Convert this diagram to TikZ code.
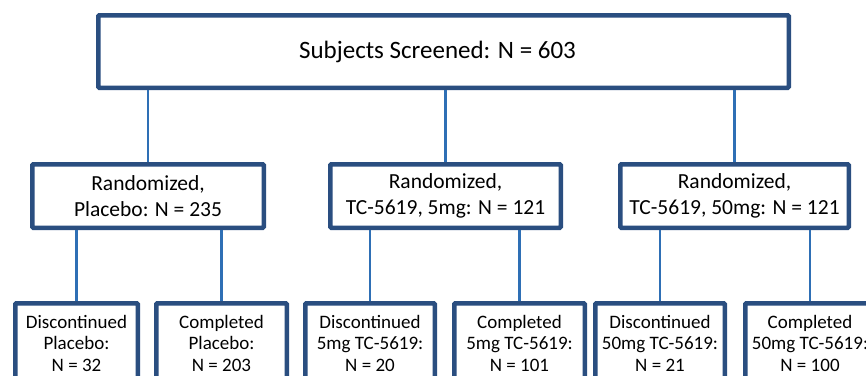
\documentclass[tikz,border=0pt]{standalone}
\usepackage{fontspec}
\setmainfont{Carlito}
\definecolor{boxblue}{HTML}{2A4E80}
\definecolor{lineblue}{HTML}{2E6FB5}
\begin{document}
\begin{tikzpicture}[x=1pt,y=-1pt,
  box/.style={draw=boxblue,line width=4.5pt,fill=white,align=center,inner sep=0pt,rounded corners=1pt},
  topbox/.style={box,font=\fontsize{25}{29}\selectfont},
  midbox/.style={box,minimum height=63.5pt,font=\fontsize{21.5}{26}\selectfont},
  lowbox/.style={box,minimum height=79.5pt,font=\fontsize{19}{21.5}\selectfont},
  conn/.style={draw=lineblue,line width=2.5pt}]
\useasboundingbox (0,0) rectangle (866,375);
\clip (0,0) rectangle (866,375);
\fill[white] (0,0) rectangle (866,375);
\node[topbox, minimum width=690.5pt, minimum height=72.5pt] (top) at (443.5,51.5) {Subjects Screened: N = 603\hspace*{12pt}};
\node[midbox, minimum width=231.5pt] (m1) at (148,196) {Randomized,\\Placebo: N = 235};
\node[midbox, minimum width=230.5pt] (m2) at (445.5,196) {Randomized,\\TC-5619, 5mg: N = 121};
\node[midbox, minimum width=228.5pt] (m3) at (734.5,196) {Randomized,\\TC-5619, 50mg: N = 121};
\node[lowbox, minimum width=122.5pt] (a) at (76.5,343) {Discontinued\\Placebo:\\N = 32};
\node[lowbox, minimum width=130.5pt] (b) at (221.5,343) {Completed\\Placebo:\\N = 203};
\node[lowbox, minimum width=129.5pt] (c) at (370,343) {Discontinued\\5mg TC-5619:\\N = 20};
\node[lowbox, minimum width=130.5pt] (d) at (519.5,343) {Completed\\5mg TC-5619:\\N = 101};
\node[lowbox, minimum width=129.5pt] (e) at (660,343) {Discontinued\\50mg TC-5619:\\N = 21};
\node[lowbox, minimum width=129.5pt] (f) at (810,343) {Completed\\50mg TC-5619:\\N = 100};
\foreach \n in {m1,m2,m3}{\draw[conn] (\n.north) -- (\n.north |- top.south);}
\foreach \n in {a,b}{\draw[conn] (\n.north) -- (\n.north |- m1.south);}
\foreach \n in {c,d}{\draw[conn] (\n.north) -- (\n.north |- m2.south);}
\foreach \n in {e,f}{\draw[conn] (\n.north) -- (\n.north |- m3.south);}
\end{tikzpicture}
\end{document}
